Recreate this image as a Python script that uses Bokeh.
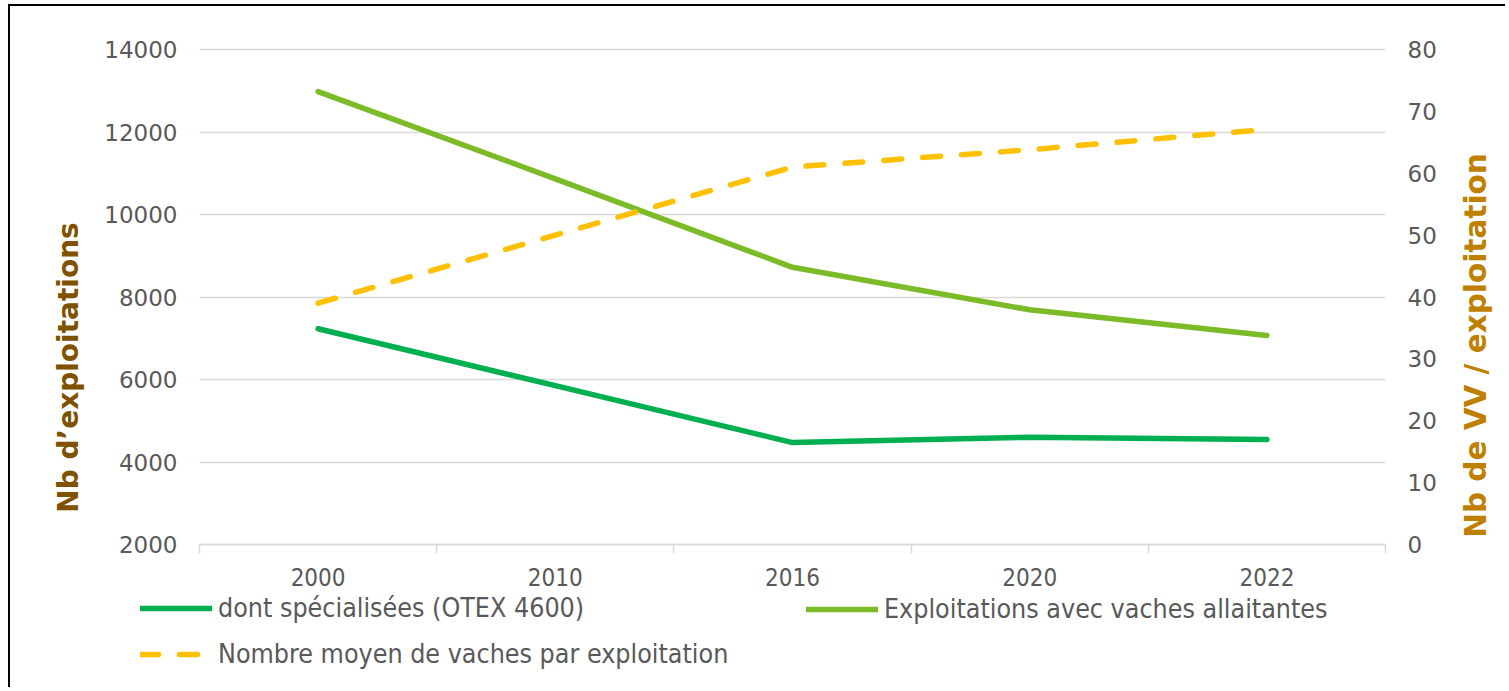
import math
from bokeh.plotting import figure
from bokeh.models import Range1d, LinearAxis, FixedTicker, Legend, LegendItem, Label
from bokeh.embed import file_html
from bokeh.resources import INLINE

# ---- data ----
years = ["2000", "2010", "2016", "2020", "2022"]
specialisees = [7230, 5850, 4470, 4600, 4545]          # dont spécialisées (OTEX 4600)
allaitantes = [12980, 10865, 8720, 7690, 7065]         # Exploitations avec vaches allaitantes
vaches_moyennes = [39.0, 50.0, 61.0, 63.8, 67.1]       # Nombre moyen de vaches par exploitation

left_ticks = [2000, 4000, 6000, 8000, 10000, 12000, 14000]
right_ticks = [0, 10, 20, 30, 40, 50, 60, 70, 80]

labels = ["dont spécialisées (OTEX 4600)",
          "Exploitations avec vaches allaitantes",
          "Nombre moyen de vaches par exploitation"]
left_title = "Nb d\u2019exploitations"
right_title = "Nb de VV / exploitation"

# ---- layout (canvas pixels) ----
W, H = 1497, 683          # canvas size
X0, X1 = 189, 1375        # left / right edge of the category band
YT, YB = 43, 538          # top / bottom of the value area
n = len(years)

ppx = (X1 - X0) / n
lspan = left_ticks[-1] - left_ticks[0]
rspan = right_ticks[-1] - right_ticks[0]
ppy = (YB - YT) / lspan
rppy = (YB - YT) / rspan

x_start, x_end = -X0 / ppx, n + (W - X1) / ppx
y_top, y_bot = left_ticks[-1] + YT / ppy, left_ticks[0] - (H - YB) / ppy
r_top, r_bot = right_ticks[-1] + YT / rppy, right_ticks[0] - (H - YB) / rppy

def dx(px):
    return x_start + px / ppx

def dy(py):
    return y_top - py / ppy

x = [i + 0.5 for i in range(n)]

TICK_FONT = "DejaVu Sans"
COND_FONT = "'DejaVu Sans Condensed', 'DejaVu Sans'"
GREY = "#595959"
GRID = "#D9D9D9"
C_SPEC, C_ALL, C_MOY = "#00B050", "#7CBB28", "#FFC000"

p = figure(width=W, height=H, output_backend="svg", toolbar_location=None,
           x_range=Range1d(x_start, x_end), y_range=Range1d(y_bot, y_top),
           min_border=0, min_border_left=0, min_border_right=0,
           min_border_top=0, min_border_bottom=0,
           background_fill_color="white", border_fill_color="white")
p.extra_y_ranges = {"vv": Range1d(r_bot, r_top)}
p.styles = {"margin-left": "8px", "margin-top": "4px",
            "border-left": "2px solid #000000", "border-top": "2px solid #000000"}
p.outline_line_color = None
p.xgrid.visible = False

# horizontal grid lines limited to the category band
grid_ok = True
try:
    p.ygrid.cross_bounds = (0, n)
except Exception:
    grid_ok = False
if grid_ok:
    p.ygrid.grid_line_color = GRID
    p.ygrid.grid_line_width = 1.5
else:
    p.ygrid.visible = False
    p.segment(x0=[0] * len(left_ticks), x1=[n] * len(left_ticks), y0=left_ticks, y1=left_ticks,
              line_color=GRID, line_width=1.5, level="underlay")

# bottom axis (at the 2000 line)
xa = p.xaxis[0]
xa.fixed_location = left_ticks[0]
xa.bounds = (0, n)
xa.ticker = FixedTicker(ticks=x, minor_ticks=list(range(n + 1)))
xa.major_label_overrides = {xi: yr for xi, yr in zip(x, years)}
xa.major_tick_line_color = None
xa.major_tick_out = 0
xa.major_tick_in = 0
xa.minor_tick_line_color = GRID
xa.minor_tick_line_width = 1.5
xa.minor_tick_out = 9
xa.minor_tick_in = 0
xa.axis_line_color = GRID
xa.axis_line_width = 1.5
xa.major_label_standoff = 14
xa.major_label_text_font = COND_FONT
xa.major_label_text_font_size = "24px"
xa.major_label_text_color = GREY

# left axis
ya = p.yaxis[0]
ya.fixed_location = 0
ya.ticker = FixedTicker(ticks=left_ticks)
ya.axis_line_color = None
ya.major_tick_line_color = None
ya.minor_tick_line_color = None
ya.major_tick_out = 0
ya.major_tick_in = 0
ya.major_label_standoff = 22
ya.major_label_text_font = TICK_FONT
ya.major_label_text_font_size = "23px"
ya.major_label_text_color = GREY

# right axis
ra = LinearAxis(y_range_name="vv", ticker=FixedTicker(ticks=right_ticks), fixed_location=n)
ra.axis_line_color = None
ra.major_tick_line_color = None
ra.minor_tick_line_color = None
ra.major_tick_out = 0
ra.major_tick_in = 0
ra.major_label_standoff = 22
ra.major_label_text_font = TICK_FONT
ra.major_label_text_font_size = "23px"
ra.major_label_text_color = GREY
p.add_layout(ra, "right")

# axis titles
title_kw = dict(angle=math.pi / 2, text_align="center", text_baseline="middle",
                text_font=TICK_FONT, text_font_style="bold")
p.add_layout(Label(x=dx(58), y=dy(361), text=left_title, text_color="#7F5200",
                   text_font_size="28px", **title_kw))
p.add_layout(Label(x=dx(1465), y=dy(339), text=right_title, text_color="#BF7F00",
                   text_font_size="29.5px", **title_kw))

# lines
line_kw = dict(line_width=5.5, line_cap="round", line_join="round")
r_spec = p.line(x, specialisees, line_color=C_SPEC, **line_kw)
r_all = p.line(x, allaitantes, line_color=C_ALL, **line_kw)
r_moy = p.line(x, vaches_moyennes, y_range_name="vv", line_color=C_MOY, line_dash="18 21", **line_kw)

def style_legend(lg):
    lg.border_line_color = None
    lg.background_fill_alpha = 0
    lg.padding = 0
    lg.margin = 0
    lg.glyph_width = 72
    lg.glyph_height = 30
    lg.label_height = 30
    lg.label_standoff = 6
    lg.spacing = 15
    lg.label_text_font = COND_FONT
    lg.label_text_font_size = "26.6px"
    lg.label_text_color = GREY
    lg.label_text_baseline = "middle"

leg1 = Legend(items=[LegendItem(label=labels[0], renderers=[r_spec]),
                     LegendItem(label=labels[2], renderers=[r_moy])],
              location=(130, 20))
leg2 = Legend(items=[LegendItem(label=labels[1], renderers=[r_all])],
              location=(796, 65))
style_legend(leg1)
style_legend(leg2)
p.add_layout(leg1)
p.add_layout(leg2)

open("out.html", "w").write(file_html(p, INLINE))
